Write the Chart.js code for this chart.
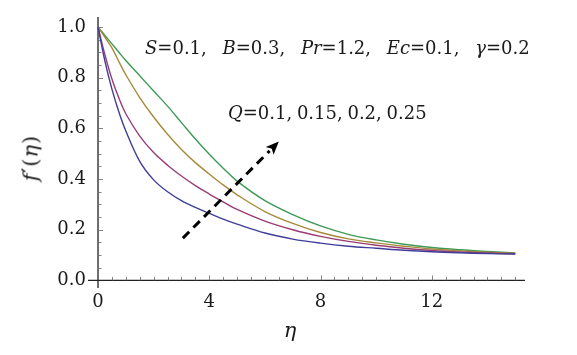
<!DOCTYPE html>
<html><head><meta charset="utf-8">
<script src="https://cdn.jsdelivr.net/npm/chart.js@4/dist/chart.umd.min.js"></script>
<style>
html,body{margin:0;padding:0;background:#fff;}
#wrap{position:relative;width:577px;height:355px;overflow:hidden;}
canvas{position:absolute;left:0;top:0;}
.lbl{position:absolute;font-family:"DejaVu Serif",serif;color:#1a1a1a;white-space:nowrap;line-height:1;}
.pr{font-family:"DejaVu Sans",sans-serif;font-style:normal;}
</style></head><body>
<div id="wrap">
<canvas id="c" width="577" height="355"></canvas>
<div class="lbl" id="params" style="left:145px;top:39px;font-size:18px;word-spacing:10px;"><i>S</i>=0.1, <i>B</i>=0.3, <i>Pr</i>=1.2, <i>Ec</i>=0.1, <i>γ</i>=0.2</div>
<div class="lbl" id="qlab" style="left:228px;top:104px;font-size:18px;word-spacing:-1px;"><i>Q</i>=0.1, 0.15, 0.2, 0.25</div>
<div class="lbl" id="xt" style="left:290px;top:320px;font-size:21px;transform:translateX(-50%);"><i>η</i></div>
<div class="lbl" id="yt" style="left:31px;top:158px;font-size:21px;letter-spacing:1px;transform:translate(-50%,-50%) rotate(-90deg);"><i>f</i><span class="pr">′</span>(<i>η</i>)</div>
</div>
<script>
// ---- data ----
const eta = [0,0.25,0.5,0.75,1,1.5,2,2.5,3,3.5,4,4.5,5,6,7,8,9,10,11,12,13,14,15];
const fQ010 = [1,0.865,0.755,0.665,0.59,0.47,0.397,0.35,0.315,0.288,0.265,0.242,0.222,0.187,0.163,0.147,0.135,0.127,0.119,0.113,0.109,0.106,0.104];
const fQ015 = [1,0.89,0.795,0.72,0.658,0.57,0.505,0.455,0.412,0.374,0.341,0.31,0.28,0.234,0.2,0.174,0.154,0.139,0.127,0.118,0.112,0.108,0.105];
const fQ020 = [1,0.96,0.918,0.864,0.812,0.722,0.645,0.577,0.517,0.465,0.42,0.377,0.338,0.272,0.225,0.189,0.164,0.148,0.135,0.124,0.117,0.111,0.107];
const fQ025 = [1,0.967,0.934,0.901,0.868,0.808,0.748,0.688,0.623,0.558,0.498,0.443,0.392,0.315,0.26,0.215,0.182,0.16,0.143,0.13,0.121,0.114,0.108];
const seriesLabels = ['Q=0.1','Q=0.15','Q=0.2','Q=0.25'];
const seriesColors = ['#3f3d99','#993d74','#a68a3a','#3d9955'];
const xTickLabels = [0,4,8,12];
const yTickLabels = [0.0,0.2,0.4,0.6,0.8,1.0];
const arrowFrom = [3.05,0.167];
const arrowTo = [6.5,0.548];

const allSeries = [fQ010,fQ015,fQ020,fQ025];
const datasets = allSeries.map((s,k)=>({
  label: seriesLabels[k],
  data: eta.map((x,i)=>({x:x,y:s[i]})),
  borderColor: seriesColors[k],
  borderWidth: 1.4,
  pointRadius: 0,
  fill: false,
  tension: 0.35
}));

const axesPlugin = {
  id:'axesPlugin',
  beforeDatasetsDraw(chart){
    const {ctx, scales:{x,y}} = chart;
    const x0 = x.getPixelForValue(0), y0 = y.getPixelForValue(0);
    ctx.save();
    ctx.strokeStyle = '#222'; ctx.lineWidth = 1.3;
    ctx.beginPath();
    ctx.moveTo(x.left, y0); ctx.lineTo(x.right, y0);
    ctx.moveTo(x0, y.bottom); ctx.lineTo(x0, y.top);
    ctx.stroke();
    ctx.strokeStyle = '#666'; ctx.lineWidth = 0.8;
    ctx.beginPath();
    for (let v = 0.5; v <= 15.01; v += 0.5) {
      const px = Math.round(x.getPixelForValue(v)) + 0.5;
      const major = Math.abs(v/4 - Math.round(v/4)) < 1e-6;
      ctx.moveTo(px, y0); ctx.lineTo(px, y0 - (major ? 5 : 3.5));
    }
    for (let v = 0.05; v <= 1.001; v += 0.05) {
      const py = Math.round(y.getPixelForValue(v)) + 0.5;
      const major = Math.abs(v/0.2 - Math.round(v/0.2)) < 1e-6;
      ctx.moveTo(x0, py); ctx.lineTo(x0 + (major ? 5 : 3.5), py);
    }
    ctx.stroke();
    ctx.restore();
  },
  afterDatasetsDraw(chart){
    const {ctx, scales:{x,y}} = chart;
    const ax = x.getPixelForValue(arrowFrom[0]), ay = y.getPixelForValue(arrowFrom[1]);
    const bx = x.getPixelForValue(arrowTo[0]), by = y.getPixelForValue(arrowTo[1]);
    const ang = Math.atan2(by-ay, bx-ax);
    const headLen = 13, headW = 5.5;
    const ex = bx - Math.cos(ang)*headLen, ey = by - Math.sin(ang)*headLen;
    ctx.save();
    ctx.strokeStyle = '#000'; ctx.lineWidth = 3;
    ctx.setLineDash([9,6]);
    ctx.beginPath(); ctx.moveTo(ax,ay); ctx.lineTo(ex,ey); ctx.stroke();
    ctx.setLineDash([]);
    ctx.fillStyle = '#000';
    ctx.beginPath();
    ctx.moveTo(bx,by);
    ctx.lineTo(ex + Math.sin(ang)*headW, ey - Math.cos(ang)*headW);
    ctx.lineTo(ex + Math.cos(ang)*3, ey + Math.sin(ang)*3);
    ctx.lineTo(ex - Math.sin(ang)*headW, ey + Math.cos(ang)*headW);
    ctx.closePath(); ctx.fill();
    ctx.restore();
  }
};

const tickFont = {family:'"DejaVu Serif", serif', size:18};
new Chart(document.getElementById('c'), {
  type:'line',
  data:{datasets:datasets},
  options:{
    responsive:false,
    animation:false,
    layout:{padding:{left:0,right:52,top:17,bottom:0}},
    plugins:{legend:{display:false},tooltip:{enabled:false},title:{display:false}},
    scales:{
      x:{type:'linear',min:-0.36,max:15.35,
        grid:{display:false,drawTicks:false},border:{display:false},
        afterFit:(s)=>{s.height=67;},
        ticks:{stepSize:4,includeBounds:false,autoSkip:false,maxRotation:0,padding:4,color:'#1a1a1a',font:tickFont,
          callback:(v)=> xTickLabels.includes(v) ? String(v) : ''}},
      y:{type:'linear',min:-0.03,max:1.04,
        grid:{display:false,drawTicks:false},border:{display:false},
        afterFit:(s)=>{s.width=88;},
        ticks:{stepSize:0.2,includeBounds:false,autoSkip:false,padding:2,color:'#1a1a1a',font:tickFont,
          callback:(v)=> yTickLabels.some(t=>Math.abs(t-v)<1e-6) ? v.toFixed(1) : ''}}
    }
  },
  plugins:[axesPlugin]
});
</script>
</body></html>
